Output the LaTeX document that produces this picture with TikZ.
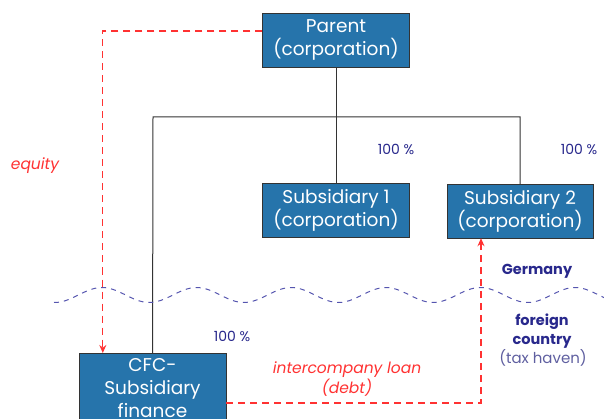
\documentclass[tikz,border=0pt]{standalone}
\usepackage{fontspec}
\setmainfont{Poppins}
\usetikzlibrary{arrows.meta}
\definecolor{boxblue}{RGB}{38,116,171}
\definecolor{navy}{RGB}{40,40,140}
\definecolor{havenblue}{RGB}{95,95,160}
\definecolor{wave}{RGB}{85,85,175}
\definecolor{flowred}{RGB}{255,50,50}
\tikzset{
    entity/.style={draw=black!80,fill=boxblue,text=white,minimum width=147pt,minimum height=54pt,
      inner sep=0pt,align=center,font=\fontsize{18.5}{23}\selectfont},
    share/.style={text=navy,font=\fontsize{14}{16}\selectfont},
    flow/.style={draw=flowred,line width=1.2pt,dash pattern=on 7pt off 5pt,-{Stealth[length=8pt,width=7pt]}},
    flowtext/.style={text=flowred,align=center,font=\fontsize{15.5}{17}\selectfont\itshape}}
\begin{document}
\begin{tikzpicture}
  [x=1pt,y=-1pt,every node/.append style={inner sep=1pt}]
  \useasboundingbox (0,0) rectangle (604,419);
  \clip (0,0) rectangle (604,419);
  \node [entity] (parent) at (336,40) {Parent\\(corporation)};
  \node [entity] (sub1) at (336,210) {Subsidiary 1\\(corporation)};
  \node [entity,minimum width=146pt] (sub2) at (520,211) {Subsidiary 2\\(corporation)};
  \node [entity,minimum height=0pt,inner ysep=5pt,anchor=north] (cfc) at (152.5,353) {CFC-\\Subsidiary\\finance};
  \coordinate (jl) at (153,117);
  \coordinate (jr) at (520,117);

  % ownership
  \draw [black!80,line width=1pt] (parent) -- (sub1);
  \draw [black!80,line width=1pt] (cfc) -- (jl) -- (jr) -- (sub2);
  \node [share] (s1) at (396,149) {100 \%};
  \node [share] (s2) at (579,149) {100 \%};
  \node [share] (s3) at (232,336) {100 \%};

  % border Germany / tax haven
  \draw [wave,line width=1pt,dash pattern=on 5pt off 5pt]
    plot[domain=54:604,samples=150] (\x,{295-7.5*cos((\x-102)/94.6*360)});
  \node [share,font=\fontsize{14.5}{16}\selectfont\bfseries] (de) at (537,271) {Germany};
  \node [share,align=center,font=\fontsize{14.5}{19}\selectfont\bfseries] (fc) at (542,331) {foreign\\country};
  \node [text=havenblue,font=\fontsize{15}{16}\selectfont] (th) at (543,358) {(tax haven)};

  % financing
  \draw [flow] ([yshift=9pt]parent.west) -| ([xshift=24pt]cfc.north west);
  \draw [flow] ([yshift=-50pt]cfc.north east) -| ([xshift=-39pt]sub2.south);
  \node [flowtext] (eq) at (35,166) {equity};
  \node [flowtext] (loan) at (347,379) {intercompany loan\\(debt)};
\end{tikzpicture}
\end{document}
